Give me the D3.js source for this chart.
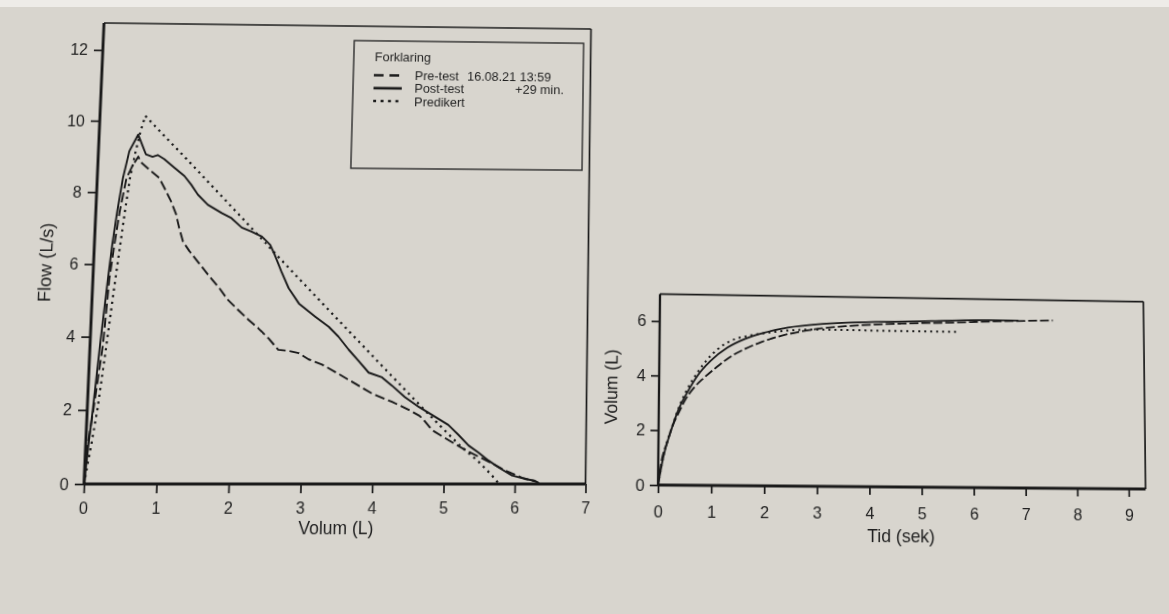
<!DOCTYPE html>
<html><head><meta charset="utf-8">
<script src="https://cdn.jsdelivr.net/npm/d3@7"></script>
<style>
html,body{margin:0;padding:0;}
body{width:1169px;height:614px;overflow:hidden;background:#d8d5ce;position:relative;font-family:"Liberation Sans",Arial,sans-serif;}
svg{position:absolute;left:0;top:0;transform-origin:0 0;}
#topband{position:absolute;left:0;top:0;width:1169px;height:7px;background:#eeece8;}
</style></head><body>
<div id="topband"></div>
<script>
// ---------- DATA ----------
// Flow-volume chart
const fvTicksX = [0,1,2,3,4,5,6,7];
const fvTicksY = [0,2,4,6,8,10,12];
const fvXLabel = "Volum (L)";
const fvYLabel = "Flow (L/s)";

const preVolume = [0,0.03,0.085,0.18,0.23,0.28,0.335,0.41,0.49,0.565,0.6,0.75,0.87,0.95,1.05,1.13,1.18,1.24,1.34,1.46,1.61,1.78,1.90,2.05,2.20,2.34,2.49,2.63,2.78,2.92,3.06,3.25,3.49,3.73,3.97,4.25,4.49,4.64,4.70,4.82,5.06,5.30,5.49,5.68,5.86,6.10,6.31,6.35];
const preFlow   = [0,1.10,2.0,3.79,5.60,6.54,7.46,8.39,8.75,9.0,8.85,8.60,8.41,8.13,7.76,7.39,7.01,6.64,6.36,6.08,5.72,5.34,5.03,4.75,4.48,4.25,3.97,3.66,3.63,3.57,3.40,3.26,3.0,2.73,2.46,2.24,2.02,1.86,1.75,1.47,1.19,0.92,0.74,0.56,0.37,0.17,0.06,0];

const postVolume = [0,0.04,0.077,0.14,0.21,0.25,0.30,0.36,0.435,0.55,0.67,0.765,0.837,0.93,1.08,1.225,1.325,1.425,1.57,1.77,1.91,2.06,2.20,2.35,2.47,2.54,2.64,2.75,2.90,3.04,3.135,3.33,3.47,3.62,3.77,3.91,4.10,4.24,4.43,4.63,4.82,5.05,5.20,5.34,5.48,5.625,5.77,5.96,6.14,6.28,6.33];
const postFlow   = [0,1.10,2.0,3.79,5.60,6.54,7.46,8.39,9.15,9.62,9.07,9.0,9.05,8.94,8.70,8.47,8.23,7.95,7.67,7.44,7.30,7.04,6.93,6.79,6.56,6.28,5.82,5.36,4.94,4.72,4.58,4.30,4.03,3.67,3.35,3.04,2.91,2.69,2.37,2.10,1.88,1.61,1.33,1.05,0.86,0.64,0.45,0.23,0.14,0.09,0.03];

const predVolume = [0,0.08,0.14,0.22,0.30,0.36,0.41,0.46,0.52,0.58,0.64,0.895,1.27,2.0,2.64,3.42,4.17,4.77,5.2,5.48,5.67,5.78];
const predFlow   = [0,1.1,2.0,3.6,5.3,6.5,7.5,8.4,9.1,9.7,10.15,9.64,8.9,7.43,6.13,4.57,3.08,1.9,1.08,0.62,0.25,0];

// Volume-time chart
const vtTicksX = [0,1,2,3,4,5,6,7,8,9];
const vtTicksY = [0,2,4,6];
const vtXLabel = "Tid (sek)";
const vtYLabel = "Volum (L)";

const preTime = [0,0.066,0.16,0.25,0.375,0.50,0.66,0.85,1.07,1.32,1.61,1.93,2.25,2.63,3.08,3.59,4.10,4.61,5.5,6.5,7.55];
const preVol  = [0,0.92,1.53,2.09,2.64,3.13,3.57,3.94,4.31,4.69,5.01,5.28,5.49,5.67,5.82,5.92,5.99,6.04,6.10,6.18,6.24];

const postTime = [0,0.096,0.22,0.374,0.53,0.72,0.97,1.29,1.61,1.99,2.44,3.01,3.65,4.48,5.19,6.34,6.88];
const postVol  = [0,1.04,1.90,2.77,3.38,4.00,4.56,5.06,5.38,5.63,5.83,5.97,6.05,6.11,6.15,6.22,6.22];

const predTime = [0,0.1,0.25,0.4,0.53,0.72,0.91,1.10,1.35,1.67,2.06,2.44,3.01,3.65,4.49,5.70];
const predVol  = [0,1.1,2.1,2.95,3.50,4.12,4.62,4.99,5.31,5.50,5.63,5.72,5.77,5.77,5.76,5.76];

// Legend
const legendTitle = "Forklaring";
const legendLabels = ["Pre-test","Post-test","Predikert"];
const legendDate = "16.08.21 13:59";
const legendOffset = "+29 min.";

// ---------- helpers ----------
const INK = "#1a1a1a", TXT = "#1f1f1f";
function homography(src, dst){
  const A=[], b=[];
  for(let i=0;i<4;i++){
    const [x,y]=src[i], [u,v]=dst[i];
    A.push([x,y,1,0,0,0,-u*x,-u*y]); b.push(u);
    A.push([0,0,0,x,y,1,-v*x,-v*y]); b.push(v);
  }
  const n=8;
  for(let c=0;c<n;c++){
    let p=c; for(let r=c+1;r<n;r++) if(Math.abs(A[r][c])>Math.abs(A[p][c])) p=r;
    [A[c],A[p]]=[A[p],A[c]]; [b[c],b[p]]=[b[p],b[c]];
    for(let r=0;r<n;r++){ if(r===c) continue; const f=A[r][c]/A[c][c]; for(let k=c;k<n;k++) A[r][k]-=f*A[c][k]; b[r]-=f*b[c]; }
  }
  return b.map((v,i)=>v/A[i][i]);
}
function m3d(h){ return `matrix3d(${h[0]},${h[3]},0,${h[6]},${h[1]},${h[4]},0,${h[7]},0,0,1,0,${h[2]},${h[5]},0,1)`; }

function makeSvg(src,dst){
  const s = d3.select("body").append("svg").attr("width",1169).attr("height",614);
  s.style("transform", m3d(homography(src,dst)));
  return s;
}
function styleAxis(g, fs){
  g.select(".domain").remove();
  g.selectAll(".tick line").attr("stroke",INK).attr("stroke-width",1.7);
  g.selectAll(".tick text").attr("fill",TXT).style("font-size",fs+"px").style("font-family","'Liberation Sans',Arial,sans-serif");
}
function drawLine(g, xs, ys, x, y, dash, w, curve){
  const line = d3.line().x(d=>x(d[0])).y(d=>y(d[1])).curve(curve||d3.curveLinear);
  g.append("path").datum(d3.zip(xs,ys)).attr("d",line).attr("fill","none")
    .attr("stroke",INK).attr("stroke-width",w).attr("stroke-dasharray",dash||null)
    .attr("stroke-linejoin","round");
}

// ---------- Flow-volume chart ----------
(function(){
  const L=84, R=584.5, B=484, T=23;
  const svg = makeSvg([[L,T],[R,T],[R,B],[L,B]], [[104,23],[591,29],[585.5,484],[84,484]]);
  const x = d3.scaleLinear().domain([0,7]).range([L,R]);
  const y = d3.scaleLinear().domain([0,(B-T)/36.1]).range([B,T]);

  svg.append("line").attr("x1",L).attr("x2",R).attr("y1",T).attr("y2",T).attr("stroke",INK).attr("stroke-width",1.7);
  svg.append("line").attr("x1",R).attr("x2",R).attr("y1",T).attr("y2",B).attr("stroke",INK).attr("stroke-width",1.7);

  drawLine(svg, predVolume, predFlow, x, y, "2.2 4.4", 2.2);
  drawLine(svg, preVolume, preFlow, x, y, "10 4", 1.9);
  drawLine(svg, postVolume, postFlow, x, y, null, 1.9);

  const gx = svg.append("g").attr("transform",`translate(0,${B})`)
    .call(d3.axisBottom(x).tickValues(fvTicksX).tickSize(9).tickPadding(9).tickFormat(d3.format("d")));
  styleAxis(gx, 16);
  const gy = svg.append("g").attr("transform",`translate(${L},0)`)
    .call(d3.axisLeft(y).tickValues(fvTicksY).tickSize(9).tickPadding(6).tickFormat(d3.format("d")));
  styleAxis(gy, 16);
  svg.append("line").attr("x1",L).attr("x2",R).attr("y1",B).attr("y2",B).attr("stroke",INK).attr("stroke-width",2.9);
  svg.append("line").attr("x1",L).attr("x2",L).attr("y1",T).attr("y2",B+1).attr("stroke",INK).attr("stroke-width",2.9);

  svg.append("text").attr("x",335).attr("y",533).attr("text-anchor","middle").attr("fill",TXT)
    .style("font-size","17.5px").text(fvXLabel);
  svg.append("text").attr("transform","translate(36,266) rotate(-90)").attr("text-anchor","middle")
    .attr("dy","0.35em").attr("fill",TXT).style("font-size","18px").text(fvYLabel);

  const lg = svg.append("g");
  lg.append("rect").attr("x",340).attr("y",38).attr("width",237).attr("height",131)
    .attr("fill","none").attr("stroke","#2a2a2a").attr("stroke-width",1.4);
  const fs = "13px";
  lg.append("text").attr("x",361.5).attr("y",59.5).attr("fill",TXT).style("font-size",fs).text(legendTitle);
  const rows = [{y:73.6, dash:"10 6", w:2.5},{y:86.8, dash:null, w:2.7},{y:100, dash:"3 4.6", w:2.5}];
  const baselines = [77.8, 91.5, 104.6];
  rows.forEach((r,i)=>{
    lg.append("line").attr("x1",361).attr("x2",390).attr("y1",r.y).attr("y2",r.y)
      .attr("stroke",INK).attr("stroke-width",r.w).attr("stroke-dasharray",r.dash);
    lg.append("text").attr("x",403).attr("y",baselines[i]).attr("fill",TXT).style("font-size",fs).text(legendLabels[i]);
  });
  lg.append("text").attr("x",457).attr("y",baselines[0]).attr("fill",TXT).style("font-size",fs).text(legendDate);
  lg.append("text").attr("x",557).attr("y",baselines[1]).attr("text-anchor","end").attr("fill",TXT).style("font-size",fs).text(legendOffset);
})();

// ---------- Volume-time chart ----------
(function(){
  const L=658, B=485, xmax=9.33, ymax=7;
  const R=L+xmax*52.1, T=B-ymax*27.2;
  const svg = makeSvg([[L,T],[R,T],[R,B],[L,B]], [[660,294],[1143.3,301.7],[1145.5,489],[658,485]]);
  const x = d3.scaleLinear().domain([0,xmax]).range([L,R]);
  const y = d3.scaleLinear().domain([0,ymax]).range([B,T]);

  svg.append("line").attr("x1",L).attr("x2",R).attr("y1",T).attr("y2",T).attr("stroke",INK).attr("stroke-width",1.7);
  svg.append("line").attr("x1",R).attr("x2",R).attr("y1",T).attr("y2",B).attr("stroke",INK).attr("stroke-width",1.7);

  drawLine(svg, predTime, predVol, x, y, "2 4", 2.0, d3.curveMonotoneX);
  drawLine(svg, preTime, preVol, x, y, "9 3", 1.8, d3.curveMonotoneX);
  drawLine(svg, postTime, postVol, x, y, null, 1.8, d3.curveMonotoneX);

  const gx = svg.append("g").attr("transform",`translate(0,${B})`)
    .call(d3.axisBottom(x).tickValues(vtTicksX).tickSize(8).tickPadding(13).tickFormat(d3.format("d")));
  styleAxis(gx, 16);
  const gy = svg.append("g").attr("transform",`translate(${L},0)`)
    .call(d3.axisLeft(y).tickValues(vtTicksY).tickSize(8).tickPadding(5).tickFormat(d3.format("d")));
  styleAxis(gy, 16);
  svg.append("line").attr("x1",L).attr("x2",R).attr("y1",B).attr("y2",B).attr("stroke",INK).attr("stroke-width",2.9);
  svg.append("line").attr("x1",L).attr("x2",L).attr("y1",T).attr("y2",B+1).attr("stroke",INK).attr("stroke-width",2.3);

  svg.append("text").attr("x",898).attr("y",540).attr("text-anchor","middle").attr("fill",TXT)
    .style("font-size","17.5px").text(vtXLabel);
  svg.append("text").attr("transform","translate(611,388) rotate(-90)").attr("text-anchor","middle")
    .attr("dy","0.35em").attr("fill",TXT).style("font-size","17.5px").text(vtYLabel);
})();
</script></body></html>
